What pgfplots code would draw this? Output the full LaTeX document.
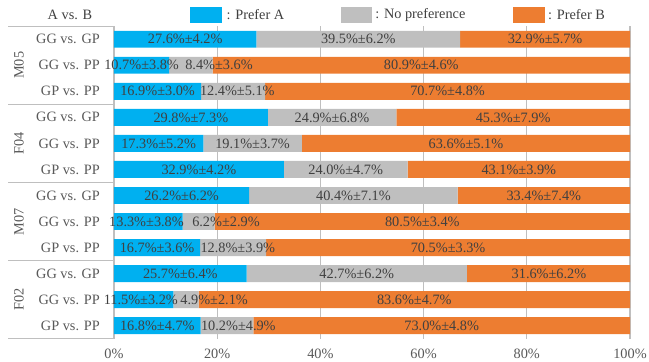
\documentclass[border=0pt]{standalone}
\usepackage{pgfplots}
\pgfplotsset{compat=1.18}
\usepackage{pgfplotstable}
\usepackage{fontspec}
\setmainfont{Liberation Serif}
\definecolor{cA}{HTML}{00B0F0}
\definecolor{cN}{HTML}{BFBFBF}
\definecolor{cB}{HTML}{ED7D31}
\definecolor{txt}{HTML}{404040}
\definecolor{lab}{HTML}{595959}
\definecolor{gridc}{HTML}{BFBFBF}
\newcommand\f{\fontsize{14.3}{16}\selectfont}

\pgfplotstableread{
row A N B
0 27.6 39.5 32.9
1 10.7 8.4 80.9
2 16.9 12.4 70.7
3 29.8 24.9 45.3
4 17.3 19.1 63.6
5 32.9 24.0 43.1
6 26.2 40.4 33.4
7 13.3 6.2 80.5
8 16.7 12.8 70.5
9 25.7 42.7 31.6
10 11.5 4.9 83.6
11 16.8 10.2 73.0
}\bars

\pgfplotstableread{
x row lab
13.8 0 27.6\%±4.2\%
47.35 0 39.5\%±6.2\%
83.55 0 32.9\%±5.7\%
5.35 1 10.7\%±3.8\%
20.35 1 8.4\%±3.6\%
59.55 1 80.9\%±4.6\%
8.45 2 16.9\%±3.0\%
23.9 2 12.4\%±5.1\%
64.65 2 70.7\%±4.8\%
14.9 3 29.8\%±7.3\%
42.25 3 24.9\%±6.8\%
77.35 3 45.3\%±7.9\%
8.65 4 17.3\%±5.2\%
26.85 4 19.1\%±3.7\%
68.2 4 63.6\%±5.1\%
16.45 5 32.9\%±4.2\%
44.9 5 24.0\%±4.7\%
78.45 5 43.1\%±3.9\%
13.1 6 26.2\%±6.2\%
46.4 6 40.4\%±7.1\%
83.3 6 33.4\%±7.4\%
6.3 7 13.3\%±3.8\%
21.7 7 6.2\%±2.9\%
59.75 7 80.5\%±3.4\%
8.35 8 16.7\%±3.6\%
24.0 8 12.8\%±3.9\%
64.75 8 70.5\%±3.3\%
12.85 9 25.7\%±6.4\%
47.05 9 42.7\%±6.2\%
84.3 9 31.6\%±6.2\%
5.2 10 11.5\%±3.2\%
19.4 10 4.9\%±2.1\%
58.2 10 83.6\%±4.7\%
8.4 11 16.8\%±4.7\%
24.1 11 10.2\%±4.9\%
63.5 11 73.0\%±4.8\%
}\labs

\begin{document}
\begin{tikzpicture}
\path[use as bounding box] (0,0) rectangle (649pt,362pt);
\begin{axis}[
  at={(114pt,23.3pt)}, anchor=south west,
  width=516pt, height=312.5pt, scale only axis,
  xbar stacked, bar width=0.65,
  xmin=0, xmax=100, ymin=-0.5, ymax=11.5, y dir=reverse,
  xtick={0,20,40,60,80,100},
  xticklabels={0\%,20\%,40\%,60\%,80\%,100\%},
  ytick={0,...,11},
  yticklabels={GG vs. GP,GG vs. PP,GP vs. PP,GG vs. GP,GG vs. PP,GP vs. PP,GG vs. GP,GG vs. PP,GP vs. PP,GG vs. GP,GG vs. PP,GP vs. PP},
  xmajorgrids, grid style={gridc, line width=1.2pt},
  axis line style={draw=none},
  major tick length=0pt,
  tick label style={font=\f, text=lab},
  xticklabel style={yshift=-6.5pt},
  yticklabel style={inner sep=0pt, xshift=-14pt},
  clip=false,
]
\addplot[fill=cA, draw=none] table[x=A,y=row]{\bars};
\addplot[fill=cN, draw=none] table[x=N,y=row]{\bars};
\addplot[fill=cB, draw=none] table[x=B,y=row]{\bars};
\pgfplotsinvokeforeach{-0.5,2.5,5.5,8.5,11.5}{
  \draw[gridc, line width=1.2pt] (axis cs:-20.5,#1) -- (axis cs:0,#1);
}
\node[rotate=90, font=\f, text=lab] at (axis cs:-18.4,1) {M05};
\node[rotate=90, font=\f, text=lab] at (axis cs:-18.4,4) {F04};
\node[rotate=90, font=\f, text=lab] at (axis cs:-18.4,7) {M07};
\node[rotate=90, font=\f, text=lab] at (axis cs:-18.4,10) {F02};
\node[font=\f, text=txt] at (axis cs:-8.53,-0.93) {A vs. B};
\fill[cA] (axis cs:14.73,-1.225) rectangle (axis cs:20.87,-0.633);
\fill[cN] (axis cs:43.9,-1.225) rectangle (axis cs:50.0,-0.633);
\fill[cB] (axis cs:77.4,-1.225) rectangle (axis cs:83.6,-0.633);
\node[anchor=west, inner sep=0pt, font=\f, text=txt] at (axis cs:21.8,-0.93) {: Prefer A};
\node[anchor=west, inner sep=0pt, font=\f, text=txt] at (axis cs:50.6,-0.93) {: No preference};
\node[anchor=west, inner sep=0pt, font=\f, text=txt] at (axis cs:84.1,-0.93) {: Prefer B};
\end{axis}
\begin{axis}[
  at={(114pt,23.3pt)}, anchor=south west,
  width=516pt, height=312.5pt, scale only axis,
  xmin=0, xmax=100, ymin=-0.5, ymax=11.5, y dir=reverse,
  hide axis, clip=false,
]
\addplot[draw=none, mark=none, nodes near coords, point meta=explicit symbolic,
  every node near coord/.append style={anchor=center, inner sep=0pt, font=\f, text=txt}]
  table[x=x, y=row, meta=lab]{\labs};
\end{axis}
\end{tikzpicture}
\end{document}
